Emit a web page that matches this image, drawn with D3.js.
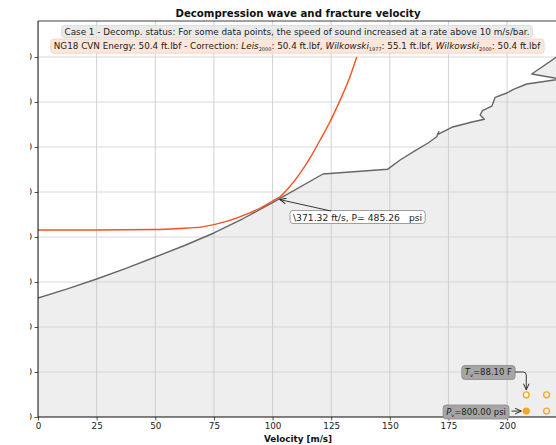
<!DOCTYPE html>
<html><head><meta charset="utf-8">
<script src="https://cdn.jsdelivr.net/npm/d3@7"></script>
<style>
body{margin:0;background:#fff;}
svg{display:block;font-family:"DejaVu Sans",sans-serif;}
</style></head><body>
<svg id="chart" width="556" height="445"></svg>
<script>
// ---- data ----
const velocityTicks = [0, 25, 50, 75, 100, 125, 150, 175, 200];
const pressureTicks = [0, 100, 200, 300, 400, 500, 600, 700, 800];

// decompression wave: velocity [m/s] vs pressure [psi]
const decompVelocity = [0, 12.5, 25, 37.5, 50, 62.5, 75, 87.5, 99.8, 121.5, 149.0, 154.4, 160.8, 166.3, 170.0, 170.9, 170.3, 176.4, 185.5, 187.0, 190.3, 188.5, 189.5, 193.5, 194.9, 199.9, 202.7, 208.4, 223.0, 210.5, 221.7];
const decompPressure = [264.4, 284.9, 306.7, 330.4, 355.6, 381.1, 408.9, 441.1, 475.6, 540.0, 550.4, 571.1, 591.8, 608.9, 622.9, 634.0, 627.5, 643.8, 656.2, 657.8, 661.6, 671.1, 680.7, 691.1, 710.4, 720.0, 728.2, 740.0, 751.0, 762.2, 802.0];

// fracture velocity curve
const fractureVelocity = [0, 25, 50, 60, 70, 80, 90, 95, 100, 103.2, 107.5, 111.7, 116, 120.3, 124, 127.4, 130, 133, 135.9];
const fracturePressure = [415.6, 415.6, 416.7, 418.9, 422.5, 434, 453, 465, 480, 489.6, 513, 541.6, 576, 615.6, 651, 688, 718, 756, 800];

const crossingVelocity = 102.5;
const crossingPressure = 485.26;
const crossingLabel = "\\371.32 ft/s, P= 485.26";
const crossingUnit = "psi";

const titleText = "Decompression wave and fracture velocity";
const statusText = "Case 1 - Decomp. status: For some data points, the speed of sound increased at a rate above 10 m/s/bar.";
const energyParts = [
  ["NG18 CVN Energy: 50.4 ft.lbf - Correction: ", ""],
  ["Leis", "i"], ["2000", "sub"], [": 50.4 ft.lbf, ", ""],
  ["Wilkowski", "i"], ["1977", "sub"], [": 55.1 ft.lbf, ", ""],
  ["Wilkowski", "i"], ["2000", "sub"], [": 50.4 ft.lbf", ""]
];
const tvText = ["T", "v", "=88.10 F"];
const pvText = ["P", "v", "=800.00 psi"];
// status markers: [row, column, filled]
const statusMarkers = [["P", 0, true], ["P", 1, false], ["T", 0, false], ["T", 1, false]];

// ---- layout ----
const svg = d3.select("#chart");
const plotLeft = 38, plotRight = 558, plotTop = 21, plotBottom = 417;
const x = d3.scaleLinear().domain([0, 221.7]).range([plotLeft, plotRight]);
const y = d3.scaleLinear().domain([0, 880]).range([plotBottom, plotTop]);
const fs = 8.8;

const defs = svg.append("defs");
defs.append("clipPath").attr("id", "plotClip").append("rect")
  .attr("x", plotLeft).attr("y", plotTop).attr("width", plotRight - plotLeft).attr("height", plotBottom - plotTop);
defs.append("clipPath").attr("id", "yLabClip").append("rect")
  .attr("x", 30).attr("y", 0).attr("width", 20).attr("height", 445);
defs.append("marker").attr("id", "arrowHead").attr("viewBox", "0 0 8 8")
  .attr("refX", 7.5).attr("refY", 4).attr("markerWidth", 7).attr("markerHeight", 7)
  .attr("markerUnits", "userSpaceOnUse").attr("orient", "auto")
  .append("path").attr("d", "M0.5,0.8 L7.5,4 L0.5,7.2").attr("fill", "none")
  .attr("stroke", "#222").attr("stroke-width", 1.1);

const plot = svg.append("g").attr("clip-path", "url(#plotClip)");

// filled region under decompression curve
const decompPts = decompVelocity.map((v, i) => [v, decompPressure[i]]);
const fillPts = decompPts.concat([[decompVelocity[decompVelocity.length - 1], 0], [0, 0]]);
plot.append("path")
  .attr("d", d3.line().x(d => x(d[0])).y(d => y(d[1]))(fillPts) + "Z")
  .attr("fill", "#eeeeee").attr("stroke", "none");

// grid
plot.append("g").selectAll("line").data(velocityTicks).join("line")
  .attr("x1", d => x(d)).attr("x2", d => x(d)).attr("y1", plotTop).attr("y2", plotBottom)
  .attr("stroke", "#c6c6c6").attr("stroke-width", 0.8);
plot.append("g").selectAll("line").data(pressureTicks).join("line")
  .attr("x1", plotLeft).attr("x2", plotRight).attr("y1", d => y(d)).attr("y2", d => y(d))
  .attr("stroke", "#cfcfcf").attr("stroke-width", 0.8);

// curves
plot.append("path")
  .attr("d", d3.line().x(d => x(d[0])).y(d => y(d[1]))(decompPts))
  .attr("fill", "none").attr("stroke", "#666666").attr("stroke-width", 1.4)
  .attr("stroke-linejoin", "round");
const fracPts = fractureVelocity.map((v, i) => [v, fracturePressure[i]]);
plot.append("path")
  .attr("d", d3.line().curve(d3.curveMonotoneX).x(d => x(d[0])).y(d => y(d[1]))(fracPts))
  .attr("fill", "none").attr("stroke", "#f4511e").attr("stroke-width", 1.4);

// axes
const xAxis = svg.append("g").attr("transform", `translate(0,${plotBottom})`)
  .call(d3.axisBottom(x).tickValues(velocityTicks).tickSize(3.5).tickPadding(2.5).tickFormat(d3.format("d")));
const yAxisWrap = svg.append("g").attr("clip-path", "url(#yLabClip)");
const yAxis = yAxisWrap.append("g").attr("transform", `translate(${plotLeft},0)`)
  .call(d3.axisLeft(y).tickValues(pressureTicks).tickSize(3.5).tickPadding(2.5).tickFormat(d3.format("d")));
[xAxis, yAxis].forEach(a => {
  a.select(".domain").remove();
  a.selectAll("text").attr("font-size", fs).attr("fill", "#222").attr("font-family", "DejaVu Sans");
  a.selectAll("line").attr("stroke", "#222").attr("stroke-width", 0.8);
});

// spines
svg.append("line").attr("x1", plotLeft).attr("x2", plotLeft).attr("y1", plotTop).attr("y2", plotBottom)
  .attr("stroke", "#111").attr("stroke-width", 1);
svg.append("line").attr("x1", plotLeft).attr("x2", plotRight).attr("y1", plotBottom).attr("y2", plotBottom)
  .attr("stroke", "#111").attr("stroke-width", 1);
svg.append("line").attr("x1", plotLeft).attr("x2", plotRight).attr("y1", plotTop).attr("y2", plotTop)
  .attr("stroke", "#111").attr("stroke-width", 0.8);

// title and axis label
const cx = (plotLeft + plotRight) / 2;
svg.append("text").attr("x", cx).attr("y", 16.5).attr("text-anchor", "middle")
  .attr("font-size", 10.2).attr("font-weight", "bold").attr("fill", "#111").text(titleText);
svg.append("text").attr("x", cx).attr("y", 441.5).attr("text-anchor", "middle")
  .attr("font-size", fs).attr("font-weight", "bold").attr("fill", "#111").text("Velocity [m/s]");

// helper: put a rounded box behind a text node
function boxBehind(textSel, padX, padY, fill, stroke, opacity) {
  const b = textSel.node().getBBox();
  const rect = document.createElementNS("http://www.w3.org/2000/svg", "rect");
  textSel.node().parentNode.insertBefore(rect, textSel.node());
  d3.select(rect)
    .attr("x", b.x - padX).attr("y", b.y - padY)
    .attr("width", b.width + 2 * padX).attr("height", b.height + 2 * padY)
    .attr("rx", 3).attr("fill", fill).attr("fill-opacity", opacity)
    .attr("stroke", stroke).attr("stroke-width", 0.8);
}

// status boxes
const info = svg.append("g");
const t1 = info.append("text").attr("x", cx - 1).attr("y", 34.5).attr("text-anchor", "middle")
  .attr("font-size", fs).attr("fill", "#222").text(statusText);
boxBehind(t1, 3, 1, "#e6e6e6", "#d8d8d8", 0.85);
const t2 = info.append("text").attr("x", cx - 1).attr("y", 48.5).attr("text-anchor", "middle")
  .attr("font-size", fs).attr("fill", "#222");
energyParts.forEach(([s, kind], i) => {
  const ts = t2.append("tspan").text(s);
  if (kind === "i") ts.attr("font-style", "italic");
  if (kind === "sub") ts.attr("font-size", 5).attr("dy", 2.2);
  if (kind === "" && i > 0 && energyParts[i - 1][1] === "sub") ts.attr("dy", -2.2);
});
boxBehind(t2, 3, 1.5, "#fde3d6", "#f6cfc0", 0.9);

// crossing annotation
const px = x(crossingVelocity), py = y(crossingPressure);
const ann = svg.append("g");
const at = ann.append("text").attr("x", 293).attr("y", 220.5)
  .attr("font-size", 9.2).attr("fill", "#222").text(crossingLabel);
const au = ann.append("text").attr("x", 409).attr("y", 220.5)
  .attr("font-size", 9.2).attr("fill", "#222").text(crossingUnit);
const bb1 = at.node().getBBox(), bb2 = au.node().getBBox();
ann.insert("rect", "text").attr("x", bb1.x - 3).attr("y", 210.5)
  .attr("width", bb2.x + bb2.width + 3 - (bb1.x - 3)).attr("height", 13).attr("rx", 3)
  .attr("fill", "#fff").attr("stroke", "#888").attr("stroke-width", 0.8);
svg.append("line").attr("x1", 331).attr("y1", 211).attr("x2", px + 1.5).attr("y2", py + 1)
  .attr("stroke", "#222").attr("stroke-width", 0.9).attr("marker-end", "url(#arrowHead)");

// Tv / Pv markers
const colX = [plotLeft + 0.939 * (plotRight - plotLeft), plotLeft + 0.978 * (plotRight - plotLeft)];
const rowY = { P: plotBottom - 0.015 * (plotBottom - plotTop), T: plotBottom - 0.056 * (plotBottom - plotTop) };
svg.append("g").selectAll("circle").data(statusMarkers).join("circle")
  .attr("cx", d => colX[d[1]]).attr("cy", d => rowY[d[0]]).attr("r", 2.9)
  .attr("fill", d => d[2] ? "#f5a623" : "#fff").attr("stroke", "#f5a623").attr("stroke-width", 1.4);

function subLabel(parts, xr, yb) {
  const g = svg.append("g");
  const t = g.append("text").attr("x", xr).attr("y", yb).attr("text-anchor", "end")
    .attr("font-size", 8.5).attr("fill", "#222");
  t.append("tspan").attr("font-style", "italic").text(parts[0]);
  t.append("tspan").attr("font-size", 5).attr("dy", 2).text(parts[1]);
  t.append("tspan").attr("dy", -2).text(parts[2]);
  const b = t.node().getBBox();
  g.insert("rect", "text").attr("x", b.x - 3).attr("y", b.y - 1.5)
    .attr("width", b.width + 6).attr("height", b.height + 3).attr("rx", 3)
    .attr("fill", "#a6a6a6").attr("stroke", "#8a8a8a").attr("stroke-width", 0.8);
  return b;
}
subLabel(tvText, 512, 375);
subLabel(pvText, 506, 414.5);
svg.append("path")
  .attr("d", `M515,372 H${colX[0] - 3} Q${colX[0]},372 ${colX[0]},375 V${rowY.T - 5}`)
  .attr("fill", "none").attr("stroke", "#222").attr("stroke-width", 0.9).attr("marker-end", "url(#arrowHead)");
svg.append("line").attr("x1", 511.5).attr("y1", rowY.P).attr("x2", colX[0] - 5).attr("y2", rowY.P)
  .attr("stroke", "#222").attr("stroke-width", 0.9).attr("marker-end", "url(#arrowHead)");
</script>
</body></html>
